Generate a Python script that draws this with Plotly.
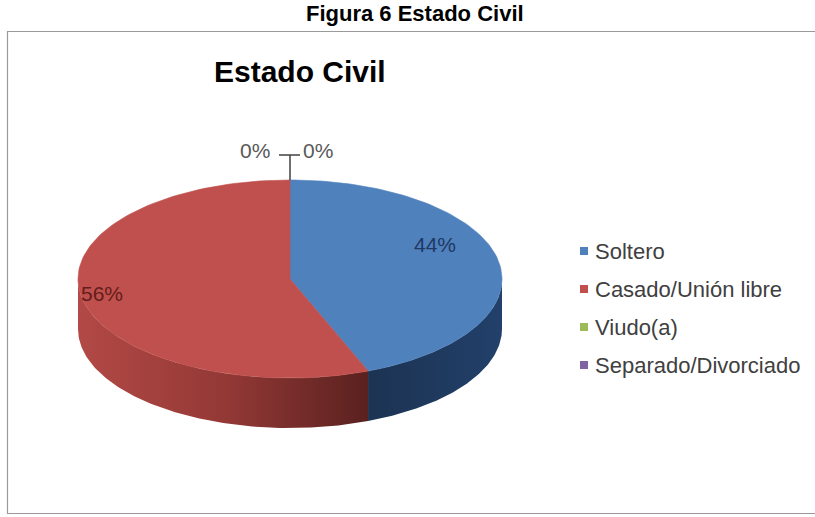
import numpy as np
import plotly.graph_objects as go

# Estado civil de los encuestados (porcentaje)
categories = ["Soltero", "Casado/Unión libre", "Viudo(a)", "Separado/Divorciado"]
values = [44, 56, 0, 0]

top_colors = ["#4F81BD", "#C0504D", "#9BBB59", "#8064A2"]
side_scales = [
    [[0, "#1C3352"], [1, "#22406A"]],
    [[0, "#B24946"], [0.5, "#943936"], [1, "#5A211F"]],
    [[0, "#6F8A3A"], [1, "#55702B"]],
    [[0, "#5C4778"], [1, "#47365E"]],
]
label_colors = ["#1F3864", "#641D1B", "#595959", "#595959"]

W, H = 815, 517
FONT = "Liberation Sans, Arial, sans-serif"

# 3D pie geometry (pixel space, y pointing down)
cx, cy, rx, ry, depth = 290, 279, 212, 99, 50

total = sum(values)
shares = [v / total for v in values]
edges = np.concatenate([[0.0], np.cumsum(shares)]) * 360.0


def rim(a0, a1, n=120):
    t = np.radians(np.linspace(a0, a1, n))
    return cx + rx * np.sin(t), cy - ry * np.cos(t)


fig = go.Figure()

# side walls (only the front half, 90..270 degrees, is visible)
for i in range(len(values)):
    a0, a1 = edges[i], edges[i + 1]
    lo, hi = max(a0, 90.0), min(a1, 270.0)
    if hi <= lo:
        continue
    xt, yt = rim(lo, hi)
    xs = np.concatenate([xt, xt[::-1]])
    ys = np.concatenate([yt, yt[::-1] + depth])
    fig.add_trace(go.Scatter(
        x=xs, y=ys, mode="lines", fill="toself",
        fillgradient=dict(type="horizontal", colorscale=side_scales[i]),
        line=dict(width=0), hoverinfo="skip", showlegend=False,
    ))

# top faces
for i in range(len(values)):
    a0, a1 = edges[i], edges[i + 1]
    if a1 - a0 <= 0:
        continue
    xt, yt = rim(a0, a1)
    xs = np.concatenate([[cx], xt, [cx]])
    ys = np.concatenate([[cy], yt, [cy]])
    fig.add_trace(go.Scatter(
        x=xs, y=ys, mode="lines", fill="toself", fillcolor=top_colors[i],
        line=dict(width=0.6, color=top_colors[i]),
        hoverinfo="text", text=f"{categories[i]}: {values[i]}%",
        showlegend=False,
    ))

# leader line for the zero-valued slices at the 0/360 boundary
top_x, top_y = rim(edges[-1], edges[-1], 1)
fig.add_trace(go.Scatter(
    x=[top_x[0], top_x[0], None, top_x[0] - 11, top_x[0] + 10],
    y=[top_y[0], 155, None, 155, 155],
    mode="lines", line=dict(color="#404040", width=1.5),
    hoverinfo="skip", showlegend=False,
))

pct = [f"{round(s * 100)}%" for s in shares]
label_pos = [(435, 244, "center"), (102, 293, "center"),
             (272, 150, "right"), (301, 150, "left")]
for i, (lx, ly, anc) in enumerate(label_pos):
    fig.add_annotation(x=lx, y=ly, text=pct[i], showarrow=False,
                       xanchor=anc, yanchor="middle",
                       font=dict(family=FONT, size=21, color=label_colors[i]))

# legend: colour keys plus labels
key_x = 584
row_y = [251, 289, 327, 365]
fig.add_trace(go.Scatter(
    x=[key_x] * len(categories), y=row_y, mode="markers",
    marker=dict(symbol="square", size=8, color=top_colors),
    hoverinfo="skip", showlegend=False,
))
for name, ry_ in zip(categories, row_y):
    fig.add_annotation(x=593, y=ry_, text=name, showarrow=False,
                       xanchor="left", yanchor="middle",
                       font=dict(family=FONT, size=22, color="#404040"))

# chart frame
fig.add_shape(type="rect", x0=7.5, y0=31.5, x1=W + 20, y1=513.5,
              line=dict(color="#9A9A9A", width=1.2), fillcolor="rgba(0,0,0,0)",
              layer="below")

fig.add_annotation(x=415, y=13, text="<b>Figura 6 Estado Civil</b>", showarrow=False,
                   xanchor="center", yanchor="middle",
                   font=dict(family=FONT, size=22, color="#000000"))
fig.add_annotation(x=300, y=71, text="<b>Estado Civil</b>", showarrow=False,
                   xanchor="center", yanchor="middle",
                   font=dict(family=FONT, size=30, color="#000000"))

fig.update_xaxes(range=[0, W], visible=False, fixedrange=True)
fig.update_yaxes(range=[H, 0], visible=False, fixedrange=True)
fig.update_layout(
    width=W, height=H, autosize=False,
    margin=dict(l=0, r=0, t=0, b=0),
    paper_bgcolor="white", plot_bgcolor="white",
    showlegend=False,
)

fig.write_html("out.html")
